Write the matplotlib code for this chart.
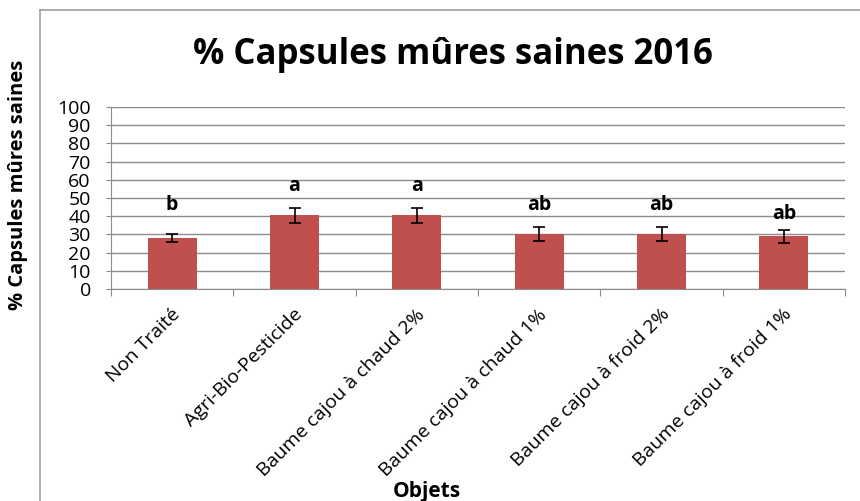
import matplotlib
matplotlib.use("Agg")
import matplotlib.pyplot as plt
from matplotlib.lines import Line2D
import numpy as np

plt.rcParams['font.family'] = ['Open Sans', 'DejaVu Sans']

categories = ["Non Traité", "Agri-Bio-Pesticide", "Baume cajou à chaud 2%",
              "Baume cajou à chaud 1%", "Baume cajou à froid 2%", "Baume cajou à froid 1%"]
values = [28, 40.5, 40.5, 30.3, 30, 29]
errors = [2, 4.2, 4.2, 3.8, 3.9, 3.5]
letters = ["b", "a", "a", "ab", "ab", "ab"]
letter_y = [46, 56.5, 56.5, 46, 46, 41]
yticks = list(range(0, 101, 10))

fig = plt.figure(figsize=(8.6, 5.01), dpi=100)
ax = fig.add_axes([111/860, 1-289/501, (845-111)/860, (289-107)/501])

x = np.arange(len(categories))
ax.bar(x, values, width=0.4, color="#C0504D", zorder=3)
ax.errorbar(x, values, yerr=errors, fmt='none', ecolor='black', elinewidth=1.2,
            capsize=4, capthick=1.2, zorder=4)
for xi, lt, ly in zip(x, letters, letter_y):
    ax.text(xi, ly, lt, ha='center', va='center', fontsize=14, fontweight='bold')

ax.set_xlim(-0.5, len(categories)-0.5)
ax.set_ylim(0, 100)
ax.set_yticks(yticks)
ax.set_yticklabels([str(t) for t in yticks], fontsize=14)
ax.yaxis.grid(True, color='#8c8c8c', linewidth=1, zorder=0)
ax.set_axisbelow(True)
for s in ['top', 'right']:
    ax.spines[s].set_visible(False)
ax.spines['left'].set_color('#8c8c8c')
ax.spines['bottom'].set_color('#8c8c8c')
ax.tick_params(axis='y', length=3.5, color='#8c8c8c', pad=11)

ax.set_xticks(np.arange(-0.5, len(categories), 1.0), minor=False)
ax.set_xticklabels([])
ax.tick_params(axis='x', length=5, color='#8c8c8c')
for xi, lab in zip(x, categories):
    ax.text(xi - 0.01, -9, lab, rotation=45, ha='right', va='top',
            rotation_mode='anchor', fontsize=14, transform=ax.transData,
            clip_on=False)

fig.text(453/860, 1-55/501, "% Capsules mûres saines 2016", ha='center', va='center',
         fontsize=25, fontweight='bold')
fig.text(18/860, 1-185/501, "% Capsules mûres saines", rotation=90, ha='center',
         va='center', fontsize=14.5, fontweight='bold')
fig.text(427/860, 1-491/501, "Objets", ha='center', va='center', fontsize=15,
         fontweight='bold')

fig.add_artist(Line2D([40/860, 40/860], [0, 1-10/501], transform=fig.transFigure,
                      color='#a0a0a0', linewidth=1.2))
fig.add_artist(Line2D([40/860, 1], [1-10/501, 1-10/501], transform=fig.transFigure,
                      color='#a0a0a0', linewidth=1.2))

fig.savefig("out.png", dpi=100)
